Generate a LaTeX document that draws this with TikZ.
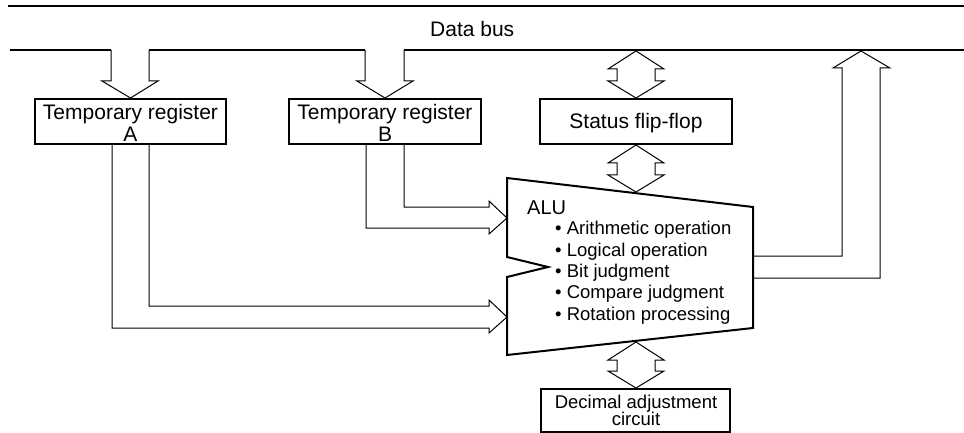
\documentclass[tikz,border=0pt]{standalone}
\usepackage{fontspec}
\setmainfont{Liberation Sans}
\newcommand\bigf{\fontsize{21}{22}\selectfont}
\newcommand\midf{\fontsize{18.5}{19}\selectfont}
\begin{document}
\begin{tikzpicture}[x=1pt,y=-1pt,
  box/.style={draw,line width=2pt,inner sep=0pt,minimum height=45pt},
  txt/.style={inner sep=0pt,anchor=base},
  thinline/.style={line width=1pt,line join=miter},
  busline/.style={line width=2pt}]
\useasboundingbox (0,0) rectangle (964,433);
% top frame line and bus
\draw[busline] (8,6) -- (964,6);
\draw[busline] (10,50) -- (111,50);
\draw[busline] (149,50) -- (365,50);
\draw[busline] (404,50) -- (964,50);
\node[txt,anchor=base west] (bus) at (430,37) {\bigf Data bus};
% boxes
\node[box,minimum width=191pt] (regA) at (130.5,121.5) {};
\node[box,minimum width=192pt] (regB) at (385,121.5) {};
\node[box,minimum width=192pt] (status) at (636,121.5) {};
\node[box,minimum width=189pt,minimum height=43pt] (dec) at (635.5,410) {};
\node[txt] (regAt) at (130.5,120) {\bigf Temporary register};
\node[txt] (regAl) at (130.5,142) {\bigf A};
\node[txt] (regBt) at (385,120) {\bigf Temporary register};
\node[txt] (regBl) at (385,142) {\bigf B};
\node[txt] (statust) at (636,129) {\bigf Status flip-flop};
\node[txt] (dect) at (636,408) {\midf Decimal adjustment};
\node[txt] (decl) at (636,425) {\midf circuit};
% ALU
\draw[line width=2pt,line join=miter] (507,178) -- (753,207) -- (753,328) -- (507,355)
  -- (507,277) -- (548,267) -- (507,257) -- cycle;
\node[txt,anchor=base west] (alu) at (527,214) {\fontsize{20}{21}\selectfont ALU};
\foreach \t [count=\i] in {Arithmetic operation,Logical operation,Bit judgment,Compare judgment,Rotation processing}
  \node[txt,anchor=base west] (item\i) at (555,213.5+21.3*\i) {\midf\textbullet\ \t};
% down arrows from bus into registers
\draw[thinline] (111,50) -- (111,81) -- (102,81) -- (130.5,98) -- (158,81) -- (149,81) -- (149,50);
\draw[thinline] (365,50) -- (365,81) -- (357,81) -- (385,98) -- (413,81) -- (404,81) -- (404,50);
% double arrows
\newcommand\dblarrow[3]{%
  \draw[thinline] (636,#1) -- (608,{#1+18}) -- (617,{#1+18}) -- (617,{#2}) -- (608,{#2})
    -- (636,#3) -- (664,{#2}) -- (655,{#2}) -- (655,{#1+18}) -- (664,{#1+18}) -- cycle;}
\dblarrow{51}{81}{98}
\dblarrow{145}{175}{192}
\dblarrow{342}{371}{388}
% register B -> ALU
\draw[thinline] (404,144) -- (404,207) -- (489,207) -- (489,201) -- (507,218) -- (489,234)
  -- (489,228) -- (366,228) -- (366,144);
% register A -> ALU
\draw[thinline] (149,144) -- (149,306) -- (489,306) -- (489,300) -- (507,317) -- (489,333)
  -- (489,328) -- (112,328) -- (112,144);
% ALU -> bus
\draw[thinline] (753,256) -- (842,256) -- (842,68) -- (833,68) -- (861,51) -- (890,68)
  -- (880,68) -- (880,278) -- (753,278);
\end{tikzpicture}
\end{document}
